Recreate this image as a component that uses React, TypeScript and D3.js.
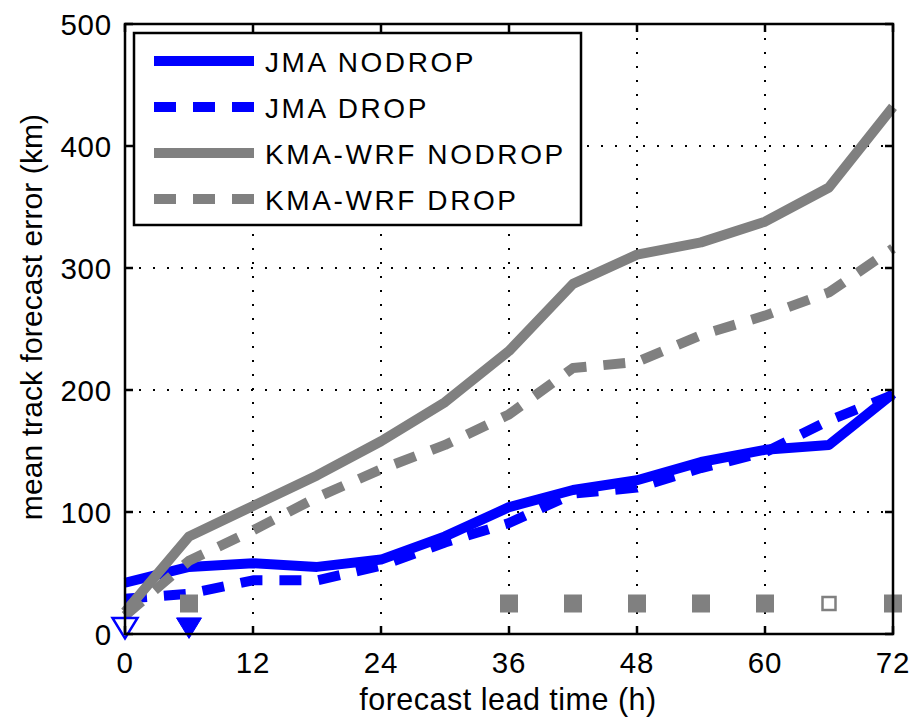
import React from 'react';
import * as d3 from 'd3';

const W = 924;
const H = 718;
const margin = { top: 24, right: 31, bottom: 84, left: 125 };

const leadHours = [0, 6, 12, 18, 24, 30, 36, 42, 48, 54, 60, 66, 72];
const jmaNodrop = [42, 55, 58, 55, 61, 80, 104, 118, 126, 141, 151, 155, 197];
const jmaDrop = [29, 33, 44, 44, 56, 75, 91, 115, 120, 136, 149, 175, 196];
const kmaNodrop = [18, 80, 105, 130, 158, 190, 232, 287, 311, 321, 338, 366, 432];
const kmaDrop = [15, 60, 85, 112, 135, 155, 180, 218, 223, 245, 261, 280, 316];

// marker rows along the bottom of the plot
const squareHours = [6, 36, 42, 48, 54, 60, 66, 72];
const squareFilled = [true, true, true, true, true, true, false, true];
const squareLevel = 25;
const triHours = [0, 6];
const triFilled = [false, true];
const triLevel = 5;

const xTicks = [0, 12, 24, 36, 48, 60, 72];
const yTicks = [0, 100, 200, 300, 400, 500];

const BLUE = '#0000ff';
const GRAY = '#808080';

const series = [
  { name: 'JMA NODROP', values: jmaNodrop, color: BLUE, dash: null },
  { name: 'JMA DROP', values: jmaDrop, color: BLUE, dash: '22 17' },
  { name: 'KMA-WRF NODROP', values: kmaNodrop, color: GRAY, dash: null },
  { name: 'KMA-WRF DROP', values: kmaDrop, color: GRAY, dash: '22 17' },
];

const font = '"Liberation Sans", Arial, Helvetica, sans-serif';

export default function App() {
  const innerW = W - margin.left - margin.right;
  const innerH = H - margin.top - margin.bottom;

  const x = d3.scaleLinear().domain([0, 72]).range([0, innerW]);
  const y = d3.scaleLinear().domain([0, 500]).range([innerH, 0]);

  const line = d3.line<number>()
    .x((_, i) => x(leadHours[i]))
    .y(d => y(d));

  // downward triangle around its centre
  const triPath = (cx: number, cy: number) => {
    const p = d3.path();
    p.moveTo(cx - 12.5, cy - 10);
    p.lineTo(cx + 12.5, cy - 10);
    p.lineTo(cx, cy + 10.5);
    p.closePath();
    return p.toString();
  };

  return (
    <svg width={W} height={H} style={{ position: 'absolute', left: 0, top: 0, background: 'white' }}
      fontFamily={font}>
      <rect width={W} height={H} fill="white" />
      <g transform={`translate(${margin.left},${margin.top})`}>
        {/* dotted grid */}
        {xTicks.slice(1, -1).map(t => (
          <line key={'gx' + t} x1={x(t)} x2={x(t)} y1={0} y2={innerH}
            stroke="black" strokeWidth={2} strokeDasharray="2 12" />
        ))}
        {yTicks.slice(1, -1).map(t => (
          <line key={'gy' + t} x1={0} x2={innerW} y1={y(t)} y2={y(t)}
            stroke="black" strokeWidth={2} strokeDasharray="2 12" />
        ))}

        {/* series */}
        {series.map(s => (
          <path key={s.name} d={line(s.values) ?? ''} fill="none" stroke={s.color}
            strokeWidth={10} strokeDasharray={s.dash ?? undefined} strokeLinejoin="round" />
        ))}

        {/* markers */}
        {squareHours.map((h, i) => (
          squareFilled[i]
            ? <rect key={'sq' + h} x={x(h) - 9} y={y(squareLevel) - 9} width={18} height={18} fill={GRAY} />
            : <rect key={'sq' + h} x={x(h) - 6.5} y={y(squareLevel) - 6.5} width={13} height={13}
                fill="white" stroke={GRAY} strokeWidth={2.5} />
        ))}
        {triHours.map((h, i) => (
          <path key={'tr' + h} d={triPath(x(h), y(triLevel))}
            fill={triFilled[i] ? BLUE : 'white'} stroke={BLUE} strokeWidth={triFilled[i] ? 1 : 2.5} />
        ))}

        {/* axes box */}
        <rect x={0} y={0} width={innerW} height={innerH} fill="none" stroke="black" strokeWidth={2.5} />
        {xTicks.map(t => (
          <g key={'xt' + t}>
            <line x1={x(t)} x2={x(t)} y1={innerH} y2={innerH - 8} stroke="black" strokeWidth={2.5} />
            <line x1={x(t)} x2={x(t)} y1={0} y2={8} stroke="black" strokeWidth={2.5} />
            <text x={x(t)} y={innerH + 39} textAnchor="middle" fontSize={29.5} letterSpacing={0.8}>{t}</text>
          </g>
        ))}
        {yTicks.map(t => (
          <g key={'yt' + t}>
            <line x1={0} x2={8} y1={y(t)} y2={y(t)} stroke="black" strokeWidth={2.5} />
            <line x1={innerW} x2={innerW - 8} y1={y(t)} y2={y(t)} stroke="black" strokeWidth={2.5} />
            <text x={-13} y={y(t) + 11} textAnchor="end" fontSize={29.5} letterSpacing={0.8}>{t}</text>
          </g>
        ))}

        {/* axis labels */}
        <text x={innerW / 2 - 1} y={innerH + 76} textAnchor="middle" fontSize={30.5} letterSpacing={0.5}>
          forecast lead time (h)
        </text>
        <text transform={`translate(${42 - margin.left},${317 - margin.top}) rotate(-90)`}
          textAnchor="middle" fontSize={30} letterSpacing={0.1}>
          mean track forecast error (km)
        </text>

        {/* legend */}
        <g transform="translate(9,9)">
          <rect x={0} y={0} width={447} height={192} fill="white" stroke="black" strokeWidth={2.5} />
          {series.map((s, i) => (
            <g key={'lg' + s.name} transform={`translate(0,${28 + i * 46})`}>
              <line x1={20} x2={120} y1={0} y2={0} stroke={s.color} strokeWidth={10}
                strokeDasharray={s.dash ?? undefined} />
              <text x={131} y={11} fontSize={28} letterSpacing={2.6}>{s.name}</text>
            </g>
          ))}
        </g>
      </g>
    </svg>
  );
}
